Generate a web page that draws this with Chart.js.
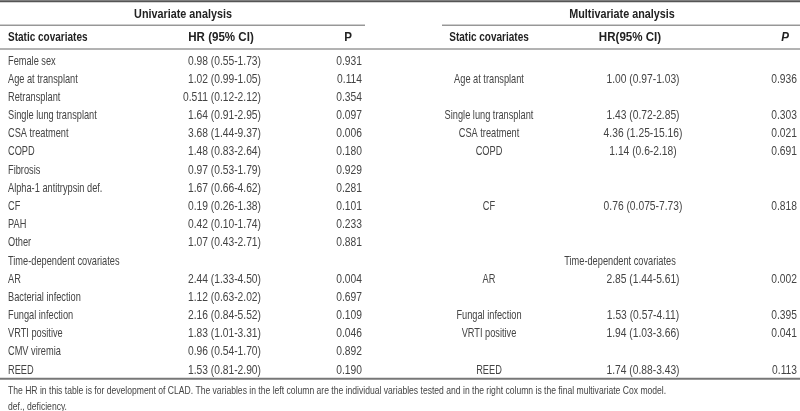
<!DOCTYPE html>
<html>
<head>
<meta charset="utf-8">
<script src="https://cdn.jsdelivr.net/npm/chart.js@4.4.1/dist/chart.umd.min.js"></script>
<style>
  html, body { margin: 0; padding: 0; background: #fff; }
  #wrap { width: 800px; height: 411px; }
</style>
</head>
<body>
<div id="wrap"><canvas id="tabla" width="800" height="411"></canvas></div>
<script>
// Datos de la tabla (una fila por índice)
var uniLabels = ["Female sex", "Age at transplant", "Retransplant", "Single lung transplant", "CSA treatment",
  "COPD", "Fibrosis", "Alpha-1 antitrypsin def.", "CF", "PAH", "Other", "Time-dependent covariates",
  "AR", "Bacterial infection", "Fungal infection", "VRTI positive", "CMV viremia", "REED"];
var uniHR = ["0.98 (0.55-1.73)", "1.02 (0.99-1.05)", "0.511 (0.12-2.12)", "1.64 (0.91-2.95)", "3.68 (1.44-9.37)",
  "1.48 (0.83-2.64)", "0.97 (0.53-1.79)", "1.67 (0.66-4.62)", "0.19 (0.26-1.38)", "0.42 (0.10-1.74)",
  "1.07 (0.43-2.71)", "", "2.44 (1.33-4.50)", "1.12 (0.63-2.02)", "2.16 (0.84-5.52)", "1.83 (1.01-3.31)",
  "0.96 (0.54-1.70)", "1.53 (0.81-2.90)"];
var uniP = ["0.931", "0.114", "0.354", "0.097", "0.006", "0.180", "0.929", "0.281", "0.101", "0.233",
  "0.881", "", "0.004", "0.697", "0.109", "0.046", "0.892", "0.190"];

var multiLabels = ["", "Age at transplant", "", "Single lung transplant", "CSA treatment", "COPD", "", "",
  "CF", "", "", "", "AR", "", "Fungal infection", "VRTI positive", "", "REED"];
var multiHR = ["", "1.00 (0.97-1.03)", "", "1.43 (0.72-2.85)", "4.36 (1.25-15.16)", "1.14 (0.6-2.18)", "", "",
  "0.76 (0.075-7.73)", "", "", "", "2.85 (1.44-5.61)", "", "1.53 (0.57-4.11)", "1.94 (1.03-3.66)", "",
  "1.74 (0.88-3.43)"];
var multiP = ["", "0.936", "", "0.303", "0.021", "0.691", "", "", "0.818", "", "", "", "0.002", "",
  "0.395", "0.041", "", "0.113"];

var multiSection = [{ row: 11, text: "Time-dependent covariates" }];

var groupTitles = ["Univariate analysis", "Multivariate analysis"];
var uniHeaders = ["Static covariates", "HR (95% CI)", "P"];
var multiHeaders = ["Static covariates", "HR(95% CI)", "P"];
var notes = [
  "The HR in this table is for development of CLAD. The variables in the left column are the individual variables tested and in the right column is the final multivariate Cox model.",
  "def., deficiency."
];

var FONT = '"Liberation Sans", Arial, sans-serif';
var TXT = '#444';
var HEAD = '#222';

function col(texts, x, align, font, color, rows, sx) {
  var pts = [];
  texts.forEach(function (t, i) {
    if (t) pts.push({ x: x, y: rows ? rows[i] : i, text: t });
  });
  return { data: pts, align: align, font: font || ('13px ' + FONT), color: color || TXT,
           sx: sx || 0.71, pointRadius: 0 };
}

var B = 'bold 13px ' + FONT;
var datasets = [
  col(uniLabels, 8, 'left'),
  col(uniHR, 261, 'right', null, null, null, 0.79),
  col(uniP, 362, 'right', null, null, null, 0.79),
  col(multiLabels, 489, 'center'),
  col(multiHR, 643, 'center', null, null, null, 0.79),
  col(multiP, 797, 'right', null, null, null, 0.79),
  col(multiSection.map(function (s) { return s.text; }), 620, 'center', null, null, multiSection.map(function (s) { return s.row; })),
  col([groupTitles[0]], 183, 'center', B, HEAD, [-2.55], 0.83),
  col([groupTitles[1]], 622, 'center', B, HEAD, [-2.55], 0.83),
  col([uniHeaders[0]], 8, 'left', B, HEAD, [-1.27], 0.77),
  col([uniHeaders[1]], 221, 'center', B, HEAD, [-1.27], 0.89),
  col([uniHeaders[2]], 348, 'center', B, HEAD, [-1.27], 0.89),
  col([multiHeaders[0]], 489, 'center', B, HEAD, [-1.27], 0.77),
  col([multiHeaders[1]], 630, 'center', B, HEAD, [-1.27], 0.89),
  col([multiHeaders[2]], 785, 'center', 'italic ' + B, HEAD, [-1.27], 0.89),
  col(notes, 8, 'left', '11px ' + FONT, '#444', [18.15, 19.03], 0.78)
];

// reglas horizontales en unidades de fila
var rules = [
  { y: -3.28, x0: 0, x1: 800, w: 2, c: '#555' },
  { y: -1.97, x0: 0, x1: 365, w: 1, c: '#666' },
  { y: -1.97, x0: 442, x1: 800, w: 1, c: '#666' },
  { y: -0.66, x0: 0, x1: 800, w: 1, c: '#666' },
  { y: 17.48, x0: 0, x1: 800, w: 2, c: '#777' }
];

var tablePlugin = {
  id: 'tabla',
  afterDatasetsDraw: function (chart) {
    var ctx = chart.ctx, xs = chart.scales.x, ys = chart.scales.y;
    ctx.save();
    rules.forEach(function (r) {
      var y = ys.getPixelForValue(r.y);
      ctx.strokeStyle = r.c;
      ctx.lineWidth = r.w;
      ctx.beginPath();
      ctx.moveTo(xs.getPixelForValue(r.x0), y);
      ctx.lineTo(xs.getPixelForValue(r.x1), y);
      ctx.stroke();
    });
    ctx.textBaseline = 'middle';
    chart.data.datasets.forEach(function (ds, i) {
      var meta = chart.getDatasetMeta(i);
      ctx.font = ds.font;
      ctx.fillStyle = ds.color;
      ctx.textAlign = ds.align;
      meta.data.forEach(function (el, j) {
        // texto estrecho: escala horizontal
        ctx.save();
        ctx.translate(el.x, el.y);
        ctx.scale(ds.sx, 1);
        ctx.fillText(ds.data[j].text, 0, 0);
        ctx.restore();
      });
    });
    ctx.restore();
  }
};

var tabla = new Chart(document.getElementById('tabla').getContext('2d'), {
  type: 'scatter',
  data: { datasets: datasets },
  options: {
    responsive: false,
    animation: false,
    layout: { padding: 0 },
    plugins: { legend: { display: false }, tooltip: { enabled: false } },
    scales: {
      x: { type: 'linear', min: 0, max: 800, display: false },
      y: { type: 'linear', min: -3.355, max: 19.25, reverse: true, display: false }
    }
  },
  plugins: [tablePlugin]
});
</script>
</body>
</html>
